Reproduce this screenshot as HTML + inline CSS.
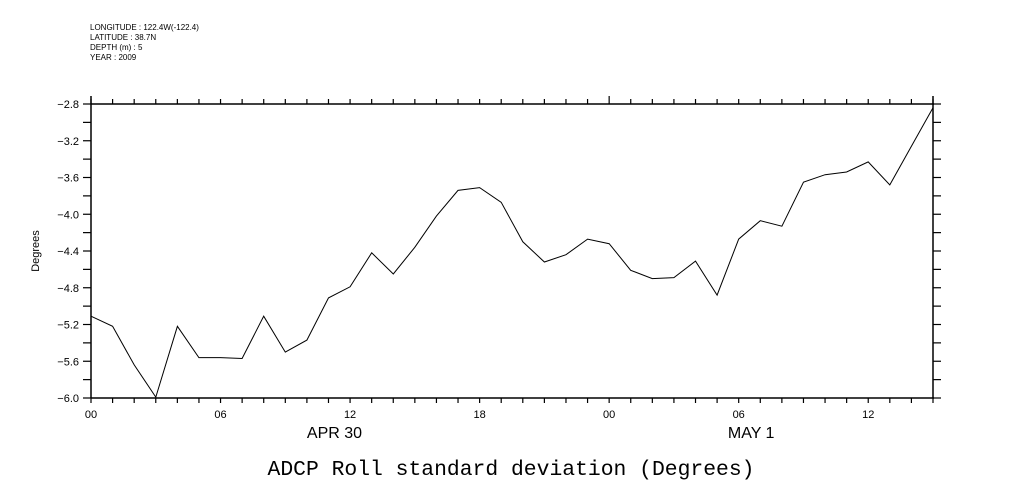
<!DOCTYPE html>
<html><head><meta charset="utf-8"><style>
body{margin:0;background:#fff;}
svg{display:block;font-family:"Liberation Sans",sans-serif;}
</style></head><body>
<svg id="chart" width="1009" height="504" viewBox="0 0 1009 504" xmlns="http://www.w3.org/2000/svg">
<g font-size="8" fill="#000">
<text x="90" y="30">LONGITUDE : 122.4W(-122.4)</text>
<text x="90" y="40">LATITUDE : 38.7N</text>
<text x="90" y="50">DEPTH (m) : 5</text>
<text x="90" y="60">YEAR : 2009</text>
</g>
<g id="axes"></g>
<path id="line" fill="none" stroke="#000" stroke-width="1"/>
<text transform="translate(39,251) rotate(-90)" font-size="11" text-anchor="middle">Degrees</text>
<text x="511" y="475" font-family="Liberation Mono,monospace" font-size="21.3" text-anchor="middle" textLength="487" lengthAdjust="spacingAndGlyphs">ADCP Roll standard deviation (Degrees)</text>
</svg>
<script>
const hours = [0,1,2,3,4,5,6,7,8,9,10,11,12,13,14,15,16,17,18,19,20,21,22,23,24,25,26,27,28,29,30,31,32,33,34,35,36,37,38,39];
const rollStd = [-5.11,-5.22,-5.64,-5.99,-5.22,-5.56,-5.56,-5.57,-5.11,-5.50,-5.37,-4.91,-4.79,-4.42,-4.65,-4.36,-4.02,-3.74,-3.71,-3.87,-4.30,-4.52,-4.44,-4.27,-4.32,-4.61,-4.70,-4.69,-4.51,-4.88,-4.27,-4.07,-4.13,-3.65,-3.57,-3.54,-3.43,-3.68,-3.26,-2.84];
const yTickLabels = ["-2.8","-3.2","-3.6","-4.0","-4.4","-4.8","-5.2","-5.6","-6.0"];
const xTickLabels = ["00","06","12","18","00","06","12"];
const dateLabels = ["APR 30","MAY  1"];
const dateLabelHours = [10.0, 29.5];

const X0=91, X1=933, Y0=104, Y1=398, H0=0, H1=39, V0=-2.8, V1=-6.0;
const xs = h => X0 + (h-H0)/(H1-H0)*(X1-X0);
const ys = v => Y0 + (v-V0)/(V1-V0)*(Y1-Y0);
const NS="http://www.w3.org/2000/svg";
const ax=document.getElementById('axes');
function mk(tag, attrs, parent){const e=document.createElementNS(NS,tag);for(const k in attrs)e.setAttribute(k,attrs[k]);(parent||ax).appendChild(e);return e;}
function ln(x1,y1,x2,y2,w){const e=mk('line',{x1,y1,x2,y2,stroke:'#000','stroke-width':w||1});return e;}
ln(X0,Y0-8,X0,Y1,1.5); ln(X0,Y1,X1+1,Y1,1.5); ln(X0,Y0,X1+1,Y0,1.5); ln(X1,Y0-8,X1,Y1,1.5);
for(let v=-2.8; v>=-6.0001; v-=0.2){const y=ys(v); ln(X0-8,y,X0,y,1.2); ln(X1,y,X1+8,y,1.2);}
yTickLabels.forEach(s=>{const t=mk('text',{x:X0-12,y:ys(parseFloat(s))+4,'text-anchor':'end','font-size':11});t.textContent=s.replace('-','\u2212');

});
for(let h=H0; h<=H1; h++){const x=xs(h); ln(x,Y1,x,Y1+5,1.2); ln(x,Y0,x,Y0-(h===24?8:5),1.2);}
xTickLabels.forEach((s,i)=>{const t=mk('text',{x:xs(i*6),y:Y1+20,'text-anchor':'middle','font-size':11});t.textContent=s;

});
dateLabels.forEach((s,i)=>{const t=mk('text',{x:xs(dateLabelHours[i]),y:Y1+40,'text-anchor':'start','font-size':16,'xml:space':'preserve'});t.textContent=s;

});
document.getElementById('line').setAttribute('d', hours.map((h,i)=>(i?'L':'M')+xs(h).toFixed(1)+','+ys(rollStd[i]).toFixed(1)).join(' '));
</script>
</body></html>
